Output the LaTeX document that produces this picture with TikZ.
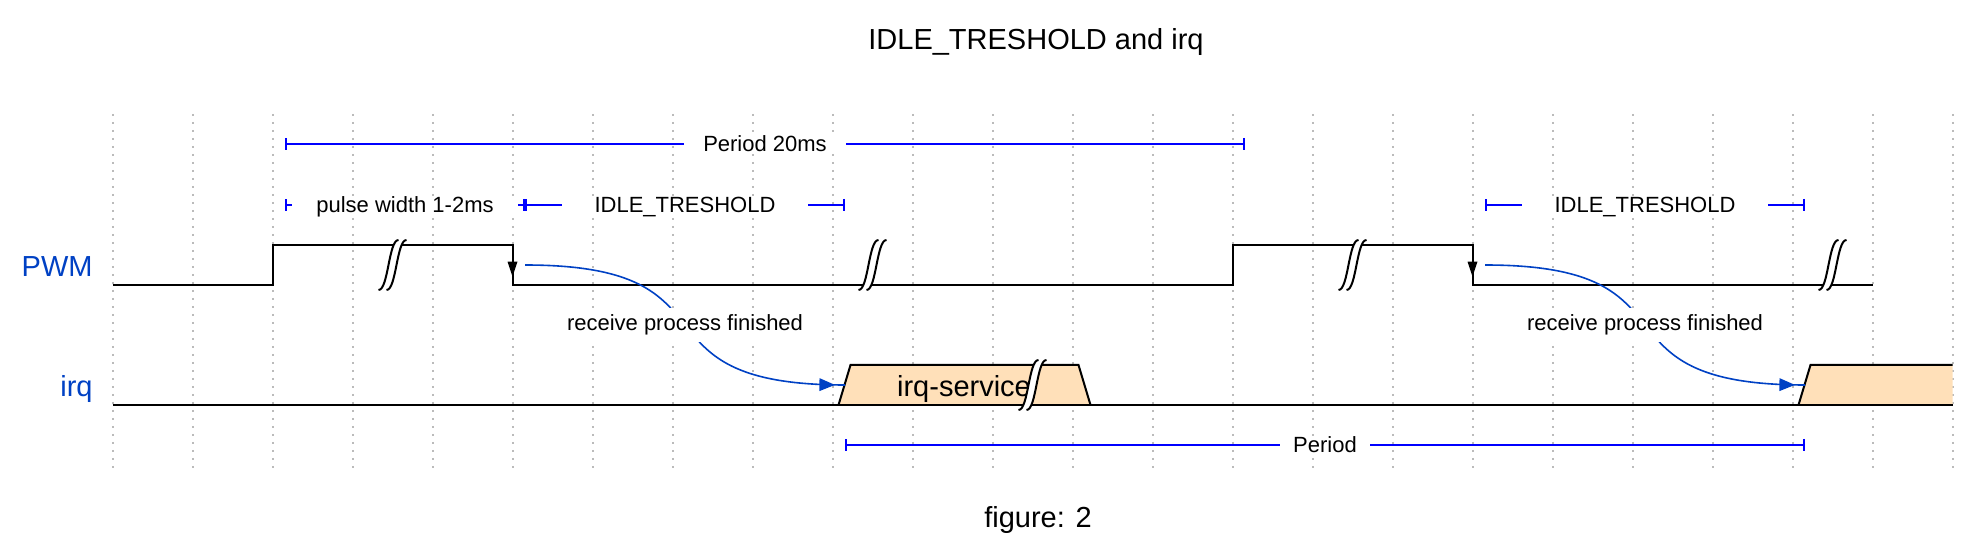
\documentclass[tikz,border=0pt]{standalone}
\usepackage{fontspec}
\setmainfont{Liberation Sans}
\usetikzlibrary{arrows.meta,decorations.markings}

\definecolor{namecol}{HTML}{0041C4}
\definecolor{spancol}{HTML}{0000FF}
\definecolor{datacol}{HTML}{FFE0B9}
\definecolor{gridcol}{HTML}{BBBBBB}

\begin{document}
\begin{tikzpicture}[x=1pt,y=-1pt,
    wave/.style={line width=1pt, line join=miter},
    gridline/.style={gridcol, line width=1pt, dash pattern=on 1pt off 3pt},
    spanline/.style={spancol, line width=1pt, {Bar[width=6pt]}-{Bar[width=6pt]}},
    lbl/.style={fill=white, text=black, inner sep=0pt, text height=8pt, text depth=0pt,
      font=\fontsize{11}{13}\selectfont},
    big/.style={font=\fontsize{14.5}{17}\selectfont},
    signame/.style={big, text=namecol, anchor=base east, inner sep=0pt},
    evarrow/.style={namecol, line width=0.8pt, postaction={decorate},
      decoration={markings, mark=at position -5pt with {\arrow{Triangle[length=7.8pt,width=6.3pt]}}}},
    brk/.pic={
      \fill[white] (-7,12.5) .. controls (-2,12.5) and (-2,-12.5) .. (3,-12.5)
        -- (7,-12.5) .. controls (2,-12.5) and (2,12.5) .. (-3,12.5) -- cycle;
      \draw[line width=1pt] (-7,12.5) .. controls (-2,12.5) and (-2,-12.5) .. (3,-12.5);
      \draw[line width=1pt] (-3,12.5) .. controls (2,12.5) and (2,-12.5) .. (7,-12.5);
    }
    ]
    \useasboundingbox (0,0) rectangle (994,275);
    % grid
    \foreach \k in {0,...,23}
      \draw[gridline] (56.25+40*\k,57) -- (56.25+40*\k,235);

    \node[big, anchor=base] (title) at (518,25) {IDLE\_TRESHOLD and irq};
    \node[big, anchor=base] (fig) at (519,264) {figure: 2};

    \node[signame] (pwm) at (46.5,138.2) {PWM};
    \node[signame] (irq) at (46.5,198.2) {irq};

    % points of the spans and arrows
    \coordinate (p2) at (142.5,72);
    \coordinate (p14) at (622.5,72);
    \coordinate (w2) at (142.5,102.5);
    \coordinate (w5) at (262.5,102.5);
    \coordinate (w9) at (422.5,102.5);
    \coordinate (w17) at (742.5,102.5);
    \coordinate (w21) at (902.5,102.5);
    \coordinate (s5) at (262.5,132.5);
    \coordinate (s17) at (742.5,132.5);
    \coordinate (q9) at (422.5,192.5);
    \coordinate (q21) at (902.5,192.5);
    \coordinate (r9) at (422.5,222.5);
    \coordinate (r21) at (902.5,222.5);

    % PWM
    \draw[wave] (56.25,142.5) -- (136.25,142.5) -- (136.25,122.5) -- (256.25,122.5)
      -- (256.25,142.5) -- (616.25,142.5) -- (616.25,122.5) -- (736.25,122.5)
      -- (736.25,142.5) -- (936.25,142.5);
    \fill (253.75,130.8) -- (258.75,130.8) -- (256.25,138.3) -- cycle;
    \fill (733.75,130.8) -- (738.75,130.8) -- (736.25,138.3) -- cycle;

    % irq
    \filldraw[wave, fill=datacol] (419.25,202.5) -- (425.25,182.5) -- (539.25,182.5) -- (545.25,202.5);
    \fill[datacol] (899.25,202.5) -- (905.25,182.5) -- (976.25,182.5) -- (976.25,202.5) -- cycle;
    \draw[wave] (899.25,202.5) -- (905.25,182.5) -- (976.25,182.5);
    \draw[wave] (56.25,202.5) -- (976.25,202.5);
    \node[big, anchor=base, inner sep=0pt] (svc) at (482,198.2) {irq-service};

    \pic at (196.25,132.5) {brk};
    \pic at (436.25,132.5) {brk};
    \pic at (676.25,132.5) {brk};
    \pic at (916.25,132.5) {brk};
    \pic at (516.25,192.5) {brk};

    % spans
    \draw[spanline] (p2) -- (p14) node[lbl, midway, minimum width=81pt] (per20) {Period 20ms};
    \draw[spanline] (w2) -- (w5) node[lbl, midway, minimum width=113pt] (pw) {pulse width 1-2ms};
    \draw[spanline] (w5) -- (w9) node[lbl, midway, minimum width=123pt] (idle1) {IDLE\_TRESHOLD};
    \draw[spanline] (w17) -- (w21) node[lbl, midway, minimum width=123pt] (idle2) {IDLE\_TRESHOLD};
    \draw[spanline] (r9) -- (r21) node[lbl, midway, minimum width=45pt] (per) {Period};

    % receive arrows
    \draw[evarrow] (s5) .. controls +(112,0) and +(-112,0) .. (q9)
      node[midway, fill=white, text=black, font=\fontsize{11}{13}\selectfont] (rcv1) {receive process finished};
    \draw[evarrow] (s17) .. controls +(112,0) and +(-112,0) .. (q21)
      node[midway, fill=white, text=black, font=\fontsize{11}{13}\selectfont] (rcv2) {receive process finished};
\end{tikzpicture}
\end{document}
